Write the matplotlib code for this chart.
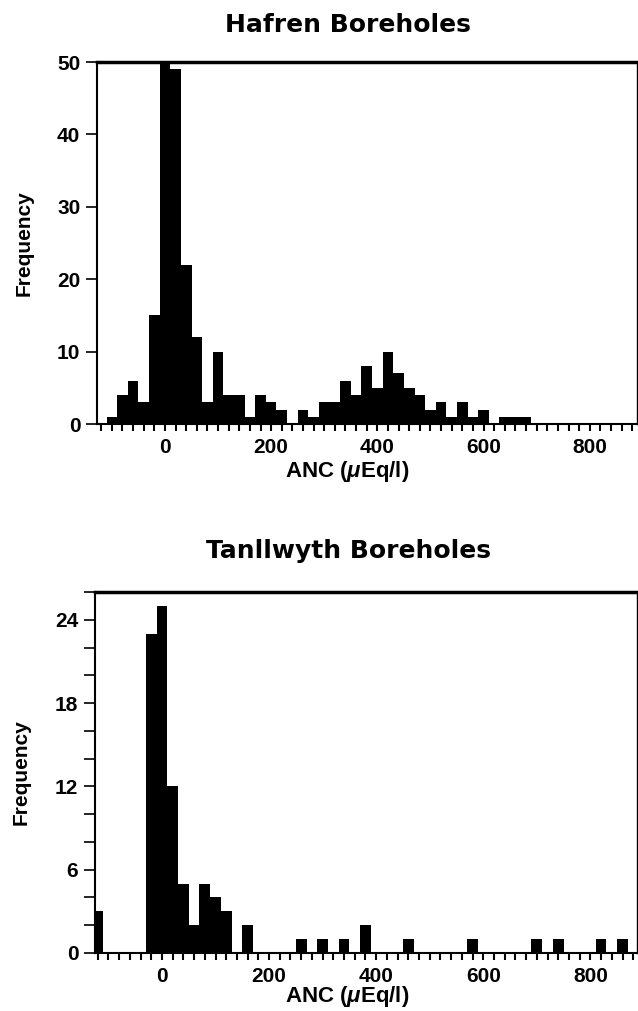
#histograms of borehole ANC for Hafren and Tanllwyth
import matplotlib.pyplot as plt
from matplotlib.ticker import MultipleLocator

plt.rcParams['font.family'] = ['Liberation Sans', 'DejaVu Sans']
plt.rcParams['font.weight'] = 'bold'
plt.rcParams['mathtext.fontset'] = 'custom'
plt.rcParams['mathtext.it'] = 'Liberation Sans:italic:bold'
plt.rcParams['mathtext.rm'] = 'Liberation Sans:bold'

#Hafren: bin centres (uEq/l) and counts
hafren_anc = [-100, -80, -60, -40, -20, 0, 20, 40, 60, 80, 100, 120, 140, 160, 180, 200,
              220, 240, 260, 280, 300, 320, 340, 360, 380, 400, 420, 440, 460, 480, 500,
              520, 540, 560, 580, 600, 620, 640, 660, 680]
hafren_freq = [1, 4, 6, 3, 15, 50, 49, 22, 12, 3, 10, 4, 4, 1, 4, 3,
               2, 0, 2, 1, 3, 3, 6, 4, 8, 5, 10, 7, 5, 4, 2,
               3, 1, 3, 1, 2, 0, 1, 1, 1]

#Tanllwyth: bin centres and counts
tan_anc = [-120, -20, 0, 20, 40, 60, 80, 100, 120, 160, 260, 300, 340, 380, 460, 580, 700, 740, 820, 860]
tan_freq = [3, 23, 25, 12, 5, 2, 5, 4, 3, 2, 1, 1, 1, 2, 1, 1, 1, 1, 1, 1]

xticks = [0, 200, 400, 600, 800]

fig = plt.figure(figsize=(6.38, 10.11), dpi=100)
W, H = 638.0, 1011.0
ax1 = fig.add_axes([97/W, 1-424/H, (637-97)/W, (424-62)/H])
ax2 = fig.add_axes([95/W, 1-953/H, (637-95)/W, (953-592)/H])

ax1.bar(hafren_anc, hafren_freq, width=20, color='black', linewidth=0)
ax2.bar(tan_anc, tan_freq, width=20, color='black', linewidth=0)

ax1.set_xlim(-128, 889)
ax1.set_ylim(0, 50)
ax1.yaxis.set_major_locator(MultipleLocator(10))
ax2.set_xlim(-125, 887)
ax2.set_ylim(0, 26)
ax2.set_yticks([0, 6, 12, 18, 24])
ax2.yaxis.set_minor_locator(MultipleLocator(2))

for ax in (ax1, ax2):
    ax.set_xticks(xticks)
    ax.xaxis.set_minor_locator(MultipleLocator(20))
    ax.tick_params(axis='x', which='both', direction='out', length=5, width=1.5, pad=5, labelsize=15)
    ax.tick_params(axis='y', which='both', direction='out', length=8, width=1.2, pad=4, labelsize=15)
    for s in ax.spines.values():
        s.set_linewidth(1.5)
    ax.spines['top'].set_linewidth(2.5)
    ax.spines['right'].set_linewidth(1)
    ax.set_xlabel(r'ANC ($\mu$Eq/l)', fontsize=16, fontweight='bold')
    ax.set_ylabel('Frequency', fontsize=15, fontweight='bold')
    ax.yaxis.set_label_coords(-0.118, 0.5)
    for lab in ax.get_xticklabels() + ax.get_yticklabels():
        lab.set_fontweight('bold')

ax1.xaxis.set_label_coords((347-97)/540, -0.097)
ax2.xaxis.set_label_coords((347-95)/542, -0.087)

fig.text(348/W, 1-25/H, 'Hafren Boreholes', ha='center', va='center', fontsize=18,
         fontweight='bold', family='DejaVu Sans')
fig.text(349/W, 1-551/H, 'Tanllwyth Boreholes', ha='center', va='center', fontsize=18,
         fontweight='bold', family='DejaVu Sans')

plt.savefig('out.png', dpi=100)
